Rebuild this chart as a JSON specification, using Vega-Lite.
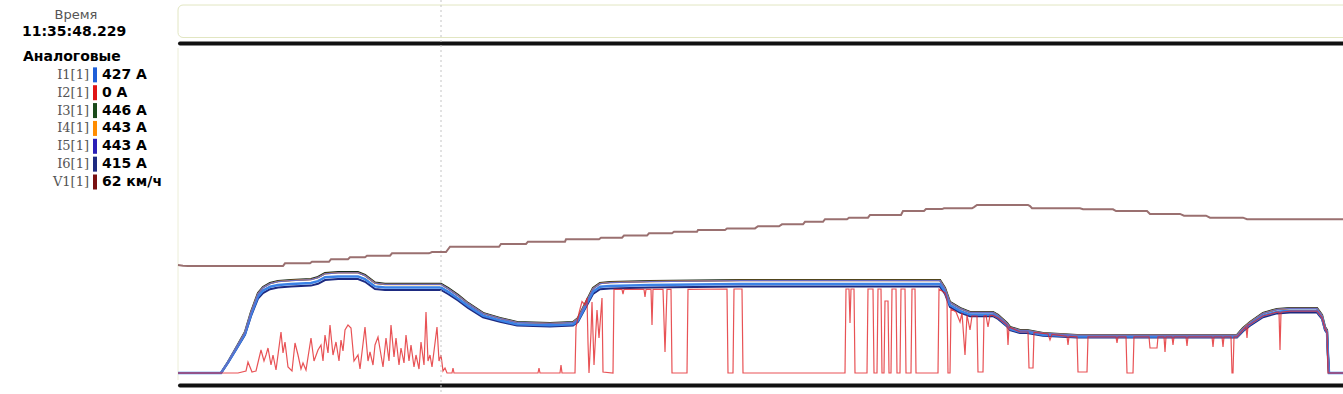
{
"$schema": "https://vega.github.io/schema/vega-lite/v6.json",
"width": 1343, "height": 394,
"autosize": "none",
"padding": 0,
"background": "white",
"config": {"view": {"stroke": null}},
"datasets": {
"cur": [
{"t":0,"I1":0,"I3":0,"I4":0,"I5":0,"I6":0},
{"t":43,"I1":0,"I3":0,"I4":0,"I5":0,"I6":0},
{"t":50,"I1":53,"I3":55,"I4":55,"I5":55,"I6":51},
{"t":58,"I1":120,"I3":125,"I4":124,"I5":124,"I6":116},
{"t":67,"I1":196,"I3":205,"I4":204,"I5":204,"I6":191},
{"t":73,"I1":292,"I3":305,"I4":303,"I5":303,"I6":284},
{"t":80,"I1":383,"I3":400,"I4":397,"I5":397,"I6":372},
{"t":85,"I1":412,"I3":430,"I4":427,"I5":427,"I6":400},
{"t":92,"I1":431,"I3":450,"I4":447,"I5":447,"I6":419},
{"t":100,"I1":440,"I3":460,"I4":457,"I5":457,"I6":428},
{"t":113,"I1":445,"I3":465,"I4":462,"I5":462,"I6":432},
{"t":133,"I1":450,"I3":470,"I4":467,"I5":467,"I6":437},
{"t":140,"I1":459,"I3":480,"I4":477,"I5":477,"I6":446},
{"t":147,"I1":479,"I3":500,"I4":496,"I5":496,"I6":465},
{"t":160,"I1":483,"I3":505,"I4":501,"I5":501,"I6":470},
{"t":180,"I1":483,"I3":505,"I4":501,"I5":501,"I6":470},
{"t":187,"I1":469,"I3":490,"I4":487,"I5":487,"I6":456},
{"t":197,"I1":433,"I3":452,"I4":449,"I5":449,"I6":420},
{"t":207,"I1":427,"I3":446,"I4":443,"I5":443,"I6":415},
{"t":233,"I1":427,"I3":446,"I4":443,"I5":443,"I6":415},
{"t":263,"I1":427,"I3":446,"I4":443,"I5":443,"I6":415},
{"t":270,"I1":407,"I3":425,"I4":422,"I5":422,"I6":395},
{"t":280,"I1":373,"I3":390,"I4":387,"I5":387,"I6":363},
{"t":290,"I1":335,"I3":350,"I4":348,"I5":348,"I6":326},
{"t":305,"I1":287,"I3":300,"I4":298,"I5":298,"I6":279},
{"t":322,"I1":263,"I3":275,"I4":273,"I5":273,"I6":256},
{"t":339,"I1":244,"I3":255,"I4":253,"I5":253,"I6":237},
{"t":372,"I1":239,"I3":250,"I4":248,"I5":248,"I6":233},
{"t":395,"I1":244,"I3":255,"I4":253,"I5":253,"I6":237},
{"t":400,"I1":263,"I3":275,"I4":273,"I5":273,"I6":256},
{"t":405,"I1":311,"I3":325,"I4":323,"I5":323,"I6":302},
{"t":410,"I1":359,"I3":375,"I4":372,"I5":372,"I6":349},
{"t":415,"I1":407,"I3":425,"I4":422,"I5":422,"I6":395},
{"t":422,"I1":431,"I3":450,"I4":447,"I5":447,"I6":419},
{"t":432,"I1":435,"I3":455,"I4":452,"I5":452,"I6":423},
{"t":472,"I1":440,"I3":460,"I4":457,"I5":457,"I6":428},
{"t":562,"I1":445,"I3":465,"I4":462,"I5":462,"I6":432},
{"t":762,"I1":445,"I3":465,"I4":462,"I5":462,"I6":432},
{"t":767,"I1":407,"I3":425,"I4":422,"I5":422,"I6":395},
{"t":772,"I1":340,"I3":355,"I4":353,"I5":353,"I6":330},
{"t":782,"I1":311,"I3":325,"I4":323,"I5":323,"I6":302},
{"t":792,"I1":292,"I3":305,"I4":303,"I5":303,"I6":284},
{"t":815,"I1":292,"I3":305,"I4":303,"I5":303,"I6":284},
{"t":820,"I1":278,"I3":290,"I4":288,"I5":288,"I6":270},
{"t":829,"I1":239,"I3":250,"I4":248,"I5":248,"I6":233},
{"t":832,"I1":220,"I3":230,"I4":228,"I5":228,"I6":214},
{"t":842,"I1":206,"I3":215,"I4":213,"I5":213,"I6":200},
{"t":849,"I1":206,"I3":215,"I4":213,"I5":213,"I6":200},
{"t":865,"I1":191,"I3":200,"I4":199,"I5":199,"I6":186},
{"t":899,"I1":182,"I3":190,"I4":189,"I5":189,"I6":177},
{"t":1059,"I1":182,"I3":190,"I4":189,"I5":189,"I6":177},
{"t":1065,"I1":215,"I3":225,"I4":223,"I5":223,"I6":209},
{"t":1072,"I1":244,"I3":255,"I4":253,"I5":253,"I6":237},
{"t":1085,"I1":287,"I3":300,"I4":298,"I5":298,"I6":279},
{"t":1099,"I1":306,"I3":320,"I4":318,"I5":318,"I6":298},
{"t":1112,"I1":311,"I3":325,"I4":323,"I5":323,"I6":302},
{"t":1139,"I1":311,"I3":325,"I4":323,"I5":323,"I6":302},
{"t":1144,"I1":278,"I3":290,"I4":288,"I5":288,"I6":270},
{"t":1147,"I1":220,"I3":230,"I4":228,"I5":228,"I6":214},
{"t":1149,"I1":206,"I3":215,"I4":213,"I5":213,"I6":200},
{"t":1150,"I1":86,"I3":90,"I4":89,"I5":89,"I6":84},
{"t":1151,"I1":0,"I3":0,"I4":0,"I5":0,"I6":0},
{"t":1165,"I1":0,"I3":0,"I4":0,"I5":0,"I6":0}
],
"i2": [
{"t":0,"v":0},{"t":60,"v":0},{"t":68,"v":10},{"t":70,"v":55},{"t":74,"v":5},{"t":78,"v":10},{"t":83,"v":115},{"t":86,"v":60},{"t":88,"v":90},{"t":90,"v":125},{"t":93,"v":40},{"t":95,"v":90},{"t":98,"v":15},{"t":103,"v":205},{"t":105,"v":100},{"t":107,"v":155},{"t":110,"v":30},{"t":114,"v":10},{"t":117,"v":150},{"t":120,"v":90},{"t":123,"v":20},{"t":125,"v":50},{"t":128,"v":15},{"t":133,"v":175},{"t":136,"v":60},{"t":140,"v":115},{"t":143,"v":140},{"t":145,"v":60},{"t":147,"v":190},{"t":150,"v":100},{"t":152,"v":240},{"t":155,"v":90},{"t":158,"v":155},{"t":161,"v":60},{"t":163,"v":165},{"t":165,"v":110},{"t":167,"v":215},{"t":170,"v":240},{"t":173,"v":225},{"t":176,"v":60},{"t":180,"v":90},{"t":182,"v":20},{"t":187,"v":230},{"t":190,"v":60},{"t":192,"v":105},{"t":195,"v":40},{"t":197,"v":140},{"t":200,"v":180},{"t":203,"v":90},{"t":205,"v":30},{"t":208,"v":175},{"t":211,"v":60},{"t":213,"v":240},{"t":216,"v":80},{"t":218,"v":175},{"t":221,"v":40},{"t":223,"v":125},{"t":226,"v":50},{"t":228,"v":190},{"t":231,"v":60},{"t":233,"v":140},{"t":236,"v":30},{"t":238,"v":90},{"t":241,"v":20},{"t":243,"v":155},{"t":246,"v":40},{"t":248,"v":305},{"t":250,"v":60},{"t":252,"v":90},{"t":254,"v":30},{"t":257,"v":150},{"t":259,"v":230},{"t":261,"v":60},{"t":263,"v":90},{"t":265,"v":10},{"t":267,"v":25},{"t":269,"v":0},{"t":274,"v":0},{"t":275,"v":25},{"t":276,"v":0},{"t":360,"v":0},{"t":361,"v":25},{"t":362,"v":0},{"t":382,"v":0},{"t":383,"v":40},{"t":384,"v":0},{"t":397,"v":0},{"t":398,"v":230},{"t":401,"v":300},{"t":404,"v":357},{"t":407,"v":340},{"t":409,"v":375},{"t":410,"v":150},{"t":411,"v":0},{"t":413,"v":200},{"t":414,"v":355},{"t":416,"v":40},{"t":419,"v":315},{"t":421,"v":175},{"t":424,"v":375},{"t":425,"v":5},{"t":435,"v":0},{"t":436,"v":418},{"t":444,"v":418},{"t":445,"v":395},{"t":446,"v":418},{"t":466,"v":418},{"t":467,"v":380},{"t":468,"v":418},{"t":473,"v":418},{"t":474,"v":240},{"t":475,"v":418},{"t":485,"v":418},{"t":487,"v":105},{"t":489,"v":418},{"t":493,"v":418},{"t":494,"v":0},{"t":509,"v":0},{"t":510,"v":418},{"t":549,"v":420},{"t":550,"v":0},{"t":555,"v":0},{"t":556,"v":420},{"t":564,"v":420},{"t":565,"v":0},{"t":667,"v":0},{"t":668,"v":420},{"t":671,"v":420},{"t":672,"v":250},{"t":673,"v":420},{"t":676,"v":420},{"t":677,"v":0},{"t":689,"v":0},{"t":690,"v":420},{"t":695,"v":420},{"t":696,"v":0},{"t":699,"v":0},{"t":700,"v":420},{"t":703,"v":420},{"t":704,"v":0},{"t":706,"v":0},{"t":707,"v":360},{"t":710,"v":360},{"t":711,"v":0},{"t":713,"v":0},{"t":714,"v":420},{"t":718,"v":420},{"t":719,"v":0},{"t":722,"v":0},{"t":723,"v":420},{"t":727,"v":420},{"t":728,"v":0},{"t":733,"v":0},{"t":734,"v":420},{"t":737,"v":420},{"t":738,"v":0},{"t":760,"v":0},{"t":761,"v":420},{"t":767,"v":400},{"t":769,"v":370},{"t":770,"v":0},{"t":772,"v":0},{"t":773,"v":320},{"t":778,"v":305},{"t":782,"v":255},{"t":784,"v":300},{"t":787,"v":90},{"t":789,"v":290},{"t":792,"v":215},{"t":794,"v":285},{"t":799,"v":285},{"t":800,"v":5},{"t":805,"v":5},{"t":806,"v":285},{"t":808,"v":288},{"t":810,"v":230},{"t":812,"v":288},{"t":815,"v":288},{"t":820,"v":275},{"t":829,"v":240},{"t":830,"v":140},{"t":831,"v":230},{"t":842,"v":205},{"t":850,"v":205},{"t":851,"v":25},{"t":855,"v":25},{"t":856,"v":203},{"t":870,"v":195},{"t":872,"v":165},{"t":874,"v":193},{"t":889,"v":183},{"t":890,"v":140},{"t":891,"v":183},{"t":899,"v":181},{"t":900,"v":5},{"t":909,"v":5},{"t":910,"v":181},{"t":938,"v":181},{"t":939,"v":150},{"t":940,"v":181},{"t":948,"v":181},{"t":949,"v":0},{"t":955,"v":0},{"t":956,"v":181},{"t":971,"v":181},{"t":972,"v":125},{"t":979,"v":125},{"t":980,"v":181},{"t":986,"v":181},{"t":987,"v":105},{"t":988,"v":181},{"t":994,"v":181},{"t":995,"v":140},{"t":996,"v":181},{"t":1008,"v":181},{"t":1009,"v":135},{"t":1010,"v":181},{"t":1034,"v":181},{"t":1035,"v":130},{"t":1036,"v":181},{"t":1044,"v":181},{"t":1045,"v":130},{"t":1046,"v":181},{"t":1053,"v":181},{"t":1054,"v":0},{"t":1055,"v":0},{"t":1056,"v":181},{"t":1059,"v":181},{"t":1065,"v":214},{"t":1068,"v":230},{"t":1069,"v":175},{"t":1070,"v":240},{"t":1072,"v":243},{"t":1085,"v":285},{"t":1099,"v":304},{"t":1101,"v":304},{"t":1102,"v":115},{"t":1103,"v":304},{"t":1112,"v":309},{"t":1139,"v":309},{"t":1144,"v":276},{"t":1147,"v":219},{"t":1149,"v":204},{"t":1150,"v":0},{"t":1165,"v":0}
],
"spd": [
{"t":0,"v":55.3},{"t":5,"v":55.0},{"t":10,"v":54.8},{"t":105,"v":54.8},{"t":107,"v":56.2},{"t":132,"v":56.2},{"t":134,"v":57.0},{"t":151,"v":57.0},{"t":153,"v":58.3},{"t":170,"v":58.3},{"t":172,"v":59.3},{"t":187,"v":59.3},{"t":189,"v":60.1},{"t":212,"v":60.1},{"t":214,"v":61.3},{"t":251,"v":61.3},{"t":254,"v":62.0},{"t":268,"v":62.0},{"t":272,"v":64.7},{"t":321,"v":64.7},{"t":323,"v":66.1},{"t":348,"v":66.1},{"t":350,"v":67.3},{"t":387,"v":67.3},{"t":388,"v":68.5},{"t":421,"v":68.5},{"t":423,"v":69.3},{"t":444,"v":69.3},{"t":446,"v":70.4},{"t":469,"v":70.4},{"t":471,"v":71.6},{"t":494,"v":71.6},{"t":496,"v":72.4},{"t":519,"v":72.4},{"t":520,"v":73.3},{"t":547,"v":73.3},{"t":549,"v":74.1},{"t":577,"v":74.1},{"t":580,"v":75.2},{"t":601,"v":75.2},{"t":604,"v":76.2},{"t":625,"v":76.2},{"t":627,"v":77.5},{"t":645,"v":77.5},{"t":647,"v":78.8},{"t":669,"v":78.8},{"t":671,"v":79.6},{"t":690,"v":79.6},{"t":692,"v":81.0},{"t":723,"v":81.0},{"t":725,"v":83.0},{"t":746,"v":83.0},{"t":748,"v":84.0},{"t":764,"v":84.0},{"t":766,"v":84.4},{"t":794,"v":84.4},{"t":796,"v":85.0},{"t":799,"v":86.1},{"t":850,"v":86.1},{"t":852,"v":85.5},{"t":854,"v":84.4},{"t":902,"v":84.4},{"t":905,"v":83.9},{"t":935,"v":83.9},{"t":938,"v":83.0},{"t":969,"v":83.0},{"t":972,"v":81.5},{"t":1002,"v":81.5},{"t":1006,"v":80.6},{"t":1028,"v":80.6},{"t":1032,"v":79.6},{"t":1065,"v":79.6},{"t":1069,"v":78.8},{"t":1165,"v":78.8}
],
"leg": [
{"name":"I1[1]","val":"427 A","series":"I1"},
{"name":"I2[1]","val":"0 A","series":"I2"},
{"name":"I3[1]","val":"446 A","series":"I3"},
{"name":"I4[1]","val":"443 A","series":"I4"},
{"name":"I5[1]","val":"443 A","series":"I5"},
{"name":"I6[1]","val":"415 A","series":"I6"},
{"name":"V1[1]","val":"62 км/ч","series":"V1"}
]
},
"resolve": {"scale": {"y": "independent", "color": "independent"}},
"layer": [
{
"layer": [
{"data": {"values": [{}]},
 "mark": {"type": "rect", "fill": "white", "stroke": "#e2e6c2", "strokeWidth": 1, "cornerRadius": 5},
 "encoding": {
  "x": {"datum": 0, "type": "quantitative", "scale": {"domain": [-178, 1165], "nice": false, "zero": false}, "axis": null},
  "x2": {"datum": 1172},
  "y": {"datum": 1840, "type": "quantitative", "scale": {"domain": [-105, 1865], "nice": false, "zero": false}, "axis": null},
  "y2": {"datum": 1677.5}}},
{"data": {"values": [{}]},
 "mark": {"type": "rule", "color": "#eceed8", "strokeWidth": 1},
 "encoding": {"x": {"datum": 0, "type": "quantitative"}, "y": {"datum": 1625, "type": "quantitative"}, "y2": {"datum": -35}}},
{"data": {"name": "cur"}, "mark": {"type": "line", "color": "#1b2e1b", "strokeWidth": 2.2},
 "encoding": {"x": {"field": "t", "type": "quantitative"}, "y": {"field": "I3", "type": "quantitative"}}},
{"data": {"name": "cur"}, "mark": {"type": "line", "color": "#f08a1c", "strokeWidth": 1.5},
 "encoding": {"x": {"field": "t", "type": "quantitative"}, "y": {"field": "I4", "type": "quantitative"}}},
{"data": {"name": "cur"}, "mark": {"type": "line", "color": "#1d2a80", "strokeWidth": 2},
 "encoding": {"x": {"field": "t", "type": "quantitative"}, "y": {"field": "I6", "type": "quantitative"}}},
{"data": {"name": "cur"}, "mark": {"type": "line", "color": "#3b82e6", "strokeWidth": 2.5},
 "encoding": {"x": {"field": "t", "type": "quantitative"}, "y": {"field": "I1", "type": "quantitative"}}},
{"data": {"name": "cur"}, "mark": {"type": "line", "color": "#6a6cc0", "strokeWidth": 1.3},
 "encoding": {"x": {"field": "t", "type": "quantitative"}, "y": {"field": "I5", "type": "quantitative"}}},
{"data": {"name": "i2"}, "mark": {"type": "line", "color": "#e2272b", "strokeWidth": 1.2, "opacity": 0.8},
 "encoding": {"x": {"field": "t", "type": "quantitative"}, "y": {"field": "v", "type": "quantitative"}}},
{"data": {"values": [{"lvl": 1647.5}, {"lvl": -62.5}]},
 "mark": {"type": "rule", "color": "#111111", "strokeWidth": 4, "strokeCap": "round"},
 "encoding": {"x": {"datum": 2, "type": "quantitative"}, "x2": {"datum": 1170}, "y": {"field": "lvl", "type": "quantitative"}}},
{"data": {"values": [{}]},
 "mark": {"type": "rule", "color": "#c4c4c4", "strokeWidth": 1, "strokeDash": [2, 3]},
 "encoding": {"x": {"datum": 263, "type": "quantitative"}, "y": {"datum": 1865, "type": "quantitative"}, "y2": {"datum": -105}}}
]
},
{"data": {"name": "spd"}, "mark": {"type": "line", "color": "#9a7070", "strokeWidth": 2},
 "encoding": {"x": {"field": "t", "type": "quantitative"},
  "y": {"field": "v", "type": "quantitative", "scale": {"domain": [-10.76, 191.13], "nice": false, "zero": false}, "axis": null}}},
{"data": {"name": "leg"},
 "mark": {"type": "text", "align": "right", "baseline": "middle", "font": "DejaVu Serif", "fontSize": 13, "color": "#555555"},
 "encoding": {"x": {"datum": -89, "type": "quantitative"},
  "y": {"field": "name", "type": "nominal", "scale": {"type": "point", "domain": ["Аналоговые", "I1[1]", "I2[1]", "I3[1]", "I4[1]", "I5[1]", "I6[1]", "V1[1]"], "range": [57, 182], "padding": 0}, "axis": null},
  "text": {"field": "name"}}},
{"data": {"name": "leg"},
 "mark": {"type": "tick", "orient": "vertical", "thickness": 4, "size": 15, "opacity": 1},
 "encoding": {"x": {"datum": -83, "type": "quantitative"},
  "y": {"field": "name", "type": "nominal", "scale": {"type": "point", "domain": ["Аналоговые", "I1[1]", "I2[1]", "I3[1]", "I4[1]", "I5[1]", "I6[1]", "V1[1]"], "range": [57, 182], "padding": 0}, "axis": null},
  "color": {"field": "series", "type": "nominal", "scale": {"domain": ["I1", "I2", "I3", "I4", "I5", "I6", "V1"], "range": ["#1f5fd8", "#e01414", "#1a4a1a", "#ff8c00", "#2b1fb8", "#1e2a80", "#7a1010"]}, "legend": null}}},
{"data": {"name": "leg"},
 "mark": {"type": "text", "align": "left", "baseline": "middle", "font": "DejaVu Sans", "fontSize": 14, "fontWeight": "bold", "color": "#000000"},
 "encoding": {"x": {"datum": -76, "type": "quantitative"},
  "y": {"field": "name", "type": "nominal", "scale": {"type": "point", "domain": ["Аналоговые", "I1[1]", "I2[1]", "I3[1]", "I4[1]", "I5[1]", "I6[1]", "V1[1]"], "range": [57, 182], "padding": 0}, "axis": null},
  "text": {"field": "val"}}},
{"data": {"values": [{"name": "Аналоговые"}]},
 "mark": {"type": "text", "align": "left", "baseline": "middle", "font": "DejaVu Sans", "fontSize": 14, "fontWeight": "bold", "color": "#000000"},
 "encoding": {"x": {"datum": -155, "type": "quantitative"},
  "y": {"field": "name", "type": "nominal", "scale": {"type": "point", "domain": ["Аналоговые", "I1[1]", "I2[1]", "I3[1]", "I4[1]", "I5[1]", "I6[1]", "V1[1]"], "range": [57, 182], "padding": 0}, "axis": null},
  "text": {"field": "name"}}},
{"data": {"values": [{"k": "Время"}]},
 "mark": {"type": "text", "align": "center", "baseline": "middle", "font": "DejaVu Sans", "fontSize": 13, "color": "#555555"},
 "encoding": {"x": {"datum": -102, "type": "quantitative"},
  "y": {"field": "k", "type": "nominal", "scale": {"type": "point", "domain": ["Время", "11:35:48.229"], "range": [15, 32], "padding": 0}, "axis": null},
  "text": {"field": "k"}}},
{"data": {"values": [{"k": "11:35:48.229"}]},
 "mark": {"type": "text", "align": "left", "baseline": "middle", "font": "DejaVu Sans", "fontSize": 14, "fontWeight": "bold", "color": "#000000"},
 "encoding": {"x": {"datum": -156, "type": "quantitative"},
  "y": {"field": "k", "type": "nominal", "scale": {"type": "point", "domain": ["Время", "11:35:48.229"], "range": [15, 32], "padding": 0}, "axis": null},
  "text": {"field": "k"}}}
]
}
